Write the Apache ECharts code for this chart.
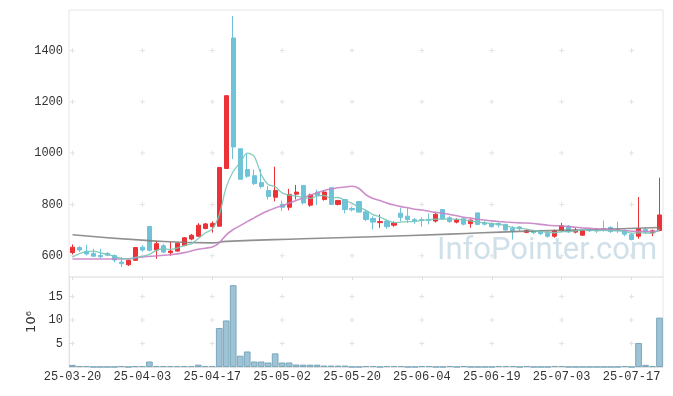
<!DOCTYPE html>
<html>
<head>
<meta charset="utf-8">
<script src="https://cdn.jsdelivr.net/npm/echarts@6/dist/echarts.min.js"></script>
<style>
html,body{margin:0;padding:0;background:#fff;}
#chart{width:673px;height:396px;}
</style>
</head>
<body>
<div id="chart"></div>
<script>
const dates = [
  '25-03-20','25-03-21','25-03-24','25-03-25','25-03-26','25-03-27','25-03-28','25-03-31',
  '25-04-01','25-04-02','25-04-03','25-04-04','25-04-07','25-04-08','25-04-09','25-04-10','25-04-11',
  '25-04-14','25-04-15','25-04-16','25-04-17','25-04-18','25-04-21','25-04-22','25-04-23','25-04-24',
  '25-04-25','25-04-28','25-04-29','25-04-30',
  '25-05-02','25-05-07','25-05-08','25-05-09','25-05-12','25-05-13','25-05-14','25-05-15','25-05-16',
  '25-05-19','25-05-20','25-05-21','25-05-22','25-05-23','25-05-26','25-05-27','25-05-28','25-05-29','25-05-30',
  '25-06-02','25-06-04','25-06-05','25-06-09','25-06-10','25-06-11','25-06-12','25-06-13','25-06-16',
  '25-06-17','25-06-18','25-06-19','25-06-20','25-06-23','25-06-24','25-06-25','25-06-26','25-06-27','25-06-30',
  '25-07-01','25-07-02','25-07-03','25-07-04','25-07-07','25-07-08','25-07-09','25-07-10','25-07-11',
  '25-07-14','25-07-15','25-07-16','25-07-17','25-07-18','25-07-21','25-07-22','25-07-23'
];
const opens = [
  612,632,617,609,601,609,601,575,565,582,633,714,622,639,612,618,640,665,676,706,
  713,715,940,1449,1017,936,912,885,854,828,800,789,840,874,797,848,819,865,800,819,
  784,811,771,745,729,735,719,766,754,741,741,741,735,780,748,731,744,725,767,728,
  726,726,722,707,712,691,697,694,688,676,698,715,692,680,702,700,706,710,702,698,
  683,676,702,689,698
];
const closes = [
  633,622,607,598,596,602,583,569,582,632,622,621,647,614,618,649,670,680,719,724,
  726,944,1224,1024,898,910,881,870,831,854,789,839,848,806,837,835,848,800,815,780,
  779,770,741,731,733,713,728,750,741,736,737,738,761,744,733,739,723,739,722,723,
  713,720,700,697,705,698,690,686,676,698,717,693,700,698,697,698,700,694,698,684,
  663,705,693,697,759
];
const lows = [
  605,615,601,596,590,598,574,556,560,580,615,617,588,610,600,615,637,660,674,703,
  690,713,940,977,898,903,876,862,819,812,774,777,819,800,791,797,815,800,796,765,
  773,768,735,702,709,705,713,733,728,725,713,722,729,741,728,726,718,709,720,718,
  710,710,698,663,697,688,684,680,670,670,694,689,687,678,693,689,694,689,689,676,
  660,666,685,676,696
];
const highs = [
  644,637,643,627,627,614,605,595,586,633,641,714,657,646,655,651,672,685,727,728,
  734,944,1224,1535,1017,998,936,938,871,947,815,861,876,874,842,858,856,867,818,819,
  790,813,780,754,761,741,734,787,787,747,750,765,767,780,754,746,748,741,767,735,
  730,730,725,715,716,703,702,702,696,702,728,720,709,700,709,709,737,715,733,702,
  689,829,712,702,904
];
// volume in millions of shares
const volumes = [
  0.46,0.22,0.22,0.03,0.03,0.03,0.03,0.22,0.03,0.22,0.22,1.17,0.22,0.22,0.22,0.22,0.22,0.22,0.5,0.22,
  0.22,8.3,9.9,17.4,2.4,3.3,1.17,1.17,0.96,2.9,0.96,0.96,0.53,0.5,0.5,0.5,0.3,0.3,0.3,0.3,
  0.03,0.03,0.22,0.22,0.03,0.22,0.22,0.22,0.03,0.03,0.22,0.22,0.03,0.03,0.22,0.03,0.22,0.03,0.03,0.03,
  0.03,0.22,0.22,0.22,0.03,0.22,0.03,0.03,0.03,0.22,0.22,0.03,0.03,0.03,0.03,0.03,0.03,0.03,0.03,0.22,
  0.03,5.1,0.46,0.2,10.5
];
const ma5Head = [[0,595],[1,608],[2,616],[3,618]];
const ma20Head = [[0,587],[4,587],[8,588],[10,595],[14,604],[16,612],[18,625]];
const ma120Points = [[0,682],[11,659],[20,650],[22,656],[33,666],[43,674],[54,684],[64,695],[75,702],[84,710]];
const priceTicks = [600,800,1000,1200,1400];
const volumeTicks = [5,10,15];
const labelStep = 10;

function movingAverage(n, head) {
  const out = head.slice();
  const last = head[head.length - 1][0];
  for (let i = last + 1; i < closes.length; i++) {
    if (i < n - 1) continue;
    let s = 0;
    for (let k = i - n + 1; k <= i; k++) s += closes[k];
    out.push([i, +(s / n).toFixed(2)]);
  }
  return out;
}

const ohlc = dates.map((d, i) => [opens[i], closes[i], lows[i], highs[i]]);
const tickIdx = dates.map((d, i) => i).filter(i => i % labelStep === 0);
const crossMain = [];
tickIdx.forEach(i => priceTicks.forEach(v => crossMain.push([i, v])));
const crossVol = [];
tickIdx.forEach(i => volumeTicks.forEach(v => crossVol.push([i, v])));

const UP = '#ec3237', DOWN = '#6ec3d9';
const FONT = 'Liberation Mono';
const plus = 'path://M2,0H3V2H5V3H3V5H2V3H0V2H2Z';
const plain = v => String(v);

const chart = echarts.init(document.getElementById('chart'), null, {renderer: 'canvas'});
chart.setOption({
  animation: false,
  backgroundColor: '#fff',
  grid: [
    {left: 69, top: 10, width: 594, height: 267, show: true, borderColor: '#e6e6e6', borderWidth: 1, backgroundColor: 'transparent'},
    {left: 69, top: 277, width: 594, height: 90, show: true, borderColor: '#e6e6e6', borderWidth: 1, backgroundColor: 'transparent'}
  ],
  graphic: [{
    type: 'text', z: 0, left: 437, top: 236,
    style: {text: 'InfoPointer.com', fill: 'rgba(170,198,215,0.55)', font: '31px Roboto'}
  }],
  xAxis: [
    {type: 'category', gridIndex: 0, data: dates, boundaryGap: true,
     axisLine: {show: false}, axisLabel: {show: false},
     axisTick: {show: true, interval: labelStep - 1, alignWithLabel: true, length: 3, lineStyle: {color: '#ddd'}},
     splitLine: {show: false}},
    {type: 'category', gridIndex: 1, data: dates, boundaryGap: true,
     axisLine: {show: true, lineStyle: {color: '#e2e2e2'}},
     axisTick: {show: false},
     axisLabel: {interval: labelStep - 1, color: '#333', fontFamily: FONT, fontSize: 12, margin: 4},
     splitLine: {show: false}}
  ],
  yAxis: [
    {type: 'value', gridIndex: 0, min: 517, max: 1558, scale: true,
     axisLine: {show: false}, axisTick: {show: false}, splitLine: {show: false},
     axisLabel: {color: '#333', fontFamily: FONT, fontSize: 12, margin: 6, showMinLabel: false, showMaxLabel: false, formatter: plain}},
    {type: 'value', gridIndex: 1, min: 0, max: v => v.max * 1.1, interval: 5,
     axisLine: {show: true, lineStyle: {color: '#e2e2e2'}}, axisTick: {show: false}, splitLine: {show: false},
     axisLabel: {color: '#333', fontFamily: FONT, fontSize: 12, margin: 6, showMinLabel: false, showMaxLabel: false, formatter: plain},
     name: '10\u2076', nameLocation: 'middle', nameRotate: 90, nameGap: 31,
     nameTextStyle: {color: '#333', fontFamily: 'DejaVu Sans', fontSize: 13}}
  ],
  series: [
    {type: 'scatter', xAxisIndex: 0, yAxisIndex: 0, data: crossMain, symbol: plus, symbolSize: 5,
     itemStyle: {color: '#dcdcdc'}, z: 1, silent: true},
    {type: 'scatter', xAxisIndex: 1, yAxisIndex: 1, data: crossVol, symbol: plus, symbolSize: 5,
     itemStyle: {color: '#dcdcdc'}, z: 1, silent: true},
    {type: 'candlestick', xAxisIndex: 0, yAxisIndex: 0, data: ohlc, barWidth: '66%', z: 2,
     itemStyle: {color: UP, color0: DOWN, borderColor: UP, borderColor0: DOWN, borderWidth: 1}},
    {type: 'line', name: 'MA120', xAxisIndex: 0, yAxisIndex: 0, data: ma120Points, smooth: true,
     showSymbol: false, lineStyle: {color: 'rgba(125,125,125,0.85)', width: 1.6}, z: 3},
    {type: 'line', name: 'MA20', xAxisIndex: 0, yAxisIndex: 0, data: movingAverage(20, ma20Head), smooth: 0.3,
     showSymbol: false, lineStyle: {color: 'rgba(200,130,196,0.9)', width: 1.6}, z: 3},
    {type: 'line', name: 'MA5', xAxisIndex: 0, yAxisIndex: 0, data: movingAverage(5, ma5Head), smooth: 0.3,
     showSymbol: false, lineStyle: {color: 'rgba(120,198,184,0.9)', width: 1.3}, z: 4},
    {type: 'bar', xAxisIndex: 1, yAxisIndex: 1, data: volumes, barCategoryGap: '4%', z: 2,
     itemStyle: {color: 'rgba(140,185,205,0.85)', borderColor: '#7aa7bc', borderWidth: 1}}
  ]
});
</script>
</body>
</html>
